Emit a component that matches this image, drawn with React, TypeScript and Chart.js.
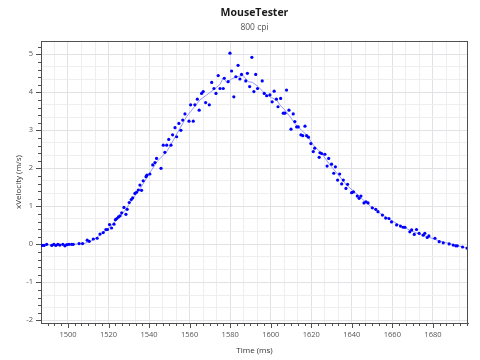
import React, { useEffect, useRef } from "react";
import { Chart, registerables } from "chart.js";

Chart.register(...registerables);

// Measured samples (time in ms, x-velocity in m/s)
const pointTimes = [
  1487.2, 1488.2, 1489.5, 1492.0, 1493.0, 1494.0, 1495.0, 1496.0, 1497.5, 1498.5,
  1499.4, 1500.5, 1501.8, 1502.6, 1505.5, 1507.2, 1509.5, 1510.5, 1512.5, 1514.4,
  1515.8, 1517.4, 1518.7, 1519.5, 1520.5, 1521.5, 1522.7, 1523.4, 1524.1, 1524.9,
  1525.7, 1526.5, 1527.6, 1528.6, 1529.2, 1530.2, 1531.2, 1531.9, 1533.0, 1533.8,
  1534.7, 1535.5, 1536.3, 1537.1, 1538.5, 1538.9, 1540.4, 1541.8, 1542.9, 1543.7,
  1545.9, 1547.0, 1547.8, 1548.7, 1549.7, 1550.8, 1551.6, 1552.8, 1553.6, 1554.7,
  1555.7, 1556.6, 1557.7, 1559.7, 1560.5, 1561.8, 1562.6, 1563.8, 1564.7, 1565.9,
  1566.7, 1567.9, 1569.7, 1570.9, 1572.0, 1573.0, 1574.1, 1575.0, 1576.6, 1577.1,
  1579.0, 1579.9, 1580.7, 1581.8, 1582.8, 1583.9, 1584.8, 1585.6, 1587.7, 1588.5,
  1589.6, 1590.7, 1591.7, 1592.6, 1593.5, 1595.8, 1596.8, 1598.0, 1599.6, 1600.7,
  1601.7, 1602.8, 1603.6, 1604.9, 1606.2, 1607.0, 1607.8, 1609.0, 1610.0, 1611.1,
  1611.9, 1612.8, 1613.6, 1614.9, 1615.8, 1616.9, 1617.7, 1618.6, 1619.8, 1621.0,
  1621.7, 1623.9, 1624.3, 1625.1, 1626.7, 1627.8, 1628.6, 1630.0, 1631.1, 1631.9,
  1633.0, 1634.0, 1635.0, 1635.8, 1637.1, 1637.9, 1639.9, 1640.8, 1642.7, 1643.6,
  1644.5, 1646.0, 1647.0, 1648.0, 1650.1, 1651.8, 1652.9, 1655.1, 1656.7, 1658.3,
  1659.6, 1662.1, 1664.0, 1665.3, 1666.2, 1668.6, 1669.5, 1670.8, 1671.9, 1673.2,
  1675.2, 1676.0, 1677.2, 1678.0, 1681.0, 1683.1, 1685.1, 1688.0, 1690.0, 1691.3,
  1692.0, 1694.6, 1696.9,
];

const pointVelocities = [
  -0.03, -0.03, 0.0, -0.03, 0.0, -0.03, 0.0, -0.02, 0.0, -0.04,
  -0.01, 0.0, 0.0, 0.0, 0.02, 0.02, 0.11, 0.08, 0.14, 0.16,
  0.27, 0.31, 0.39, 0.39, 0.52, 0.43, 0.53, 0.65, 0.68, 0.72,
  0.75, 0.83, 0.97, 0.79, 0.92, 1.1, 1.18, 1.22, 1.34, 1.37,
  1.43, 1.56, 1.42, 1.67, 1.78, 1.82, 1.85, 2.09, 2.15, 2.26,
  2.0, 2.61, 2.42, 2.61, 2.76, 2.61, 2.88, 3.07, 2.83, 3.18,
  3.0, 3.27, 3.43, 3.24, 3.67, 3.24, 3.67, 3.82, 3.53, 3.97,
  4.02, 3.73, 3.67, 4.26, 4.1, 3.97, 4.44, 4.1, 4.1, 4.37,
  4.28, 5.03, 4.56, 3.88, 4.41, 4.71, 4.35, 4.47, 4.3, 4.5,
  4.15, 4.92, 4.02, 4.47, 4.1, 4.3, 3.97, 3.91, 3.93, 3.75,
  4.03, 3.82, 3.62, 3.84, 3.45, 3.45, 4.06, 3.53, 3.03, 3.43,
  3.23, 3.09, 3.09, 2.88, 2.86, 3.11, 2.86, 2.82, 2.65, 2.44,
  2.53, 2.29, 2.41, 2.39, 2.37, 2.06, 2.26, 2.11, 1.87, 2.04,
  1.69, 1.85, 1.59, 1.69, 1.47, 1.58, 1.36, 1.38, 1.27, 1.21,
  1.27, 1.09, 1.12, 1.09, 0.96, 0.92, 0.86, 0.77, 0.69, 0.68,
  0.59, 0.51, 0.48, 0.45, 0.45, 0.33, 0.38, 0.26, 0.39, 0.29,
  0.24, 0.29, 0.18, 0.22, 0.16, 0.07, 0.04, 0.01, -0.02, -0.04,
  -0.04, -0.07, -0.1,
];

// Smoothed trace (light line)
const lineTimes = [
  1487, 1500, 1508, 1512, 1516, 1520, 1524, 1528, 1532, 1536,
  1540, 1544, 1548.7, 1552, 1555.2, 1558.5, 1561.8, 1565.1, 1568.4, 1571.7,
  1575, 1576.6, 1578.3, 1580.7, 1583.2, 1586.4, 1588.9, 1591, 1593.8, 1597.1,
  1600.4, 1602.9, 1604.5, 1607, 1609.5, 1611.9, 1615.2, 1617.7, 1621, 1625,
  1629.2, 1633.3, 1637.4, 1641.5, 1645.6, 1649.7, 1653.8, 1658, 1662, 1666,
  1670.3, 1674.4, 1678.5, 1682.6, 1686.7, 1691, 1696.6,
];
const lineVelocities = [
  -0.02, -0.01, 0.02, 0.1, 0.25, 0.42, 0.64, 0.88, 1.2, 1.5,
  1.85, 2.18, 2.44, 2.74, 3.05, 3.36, 3.58, 3.8, 3.93, 4.06,
  4.21, 4.38, 4.26, 4.35, 4.41, 4.44, 4.28, 4.26, 4.15, 3.97,
  3.86, 3.8, 3.67, 3.53, 3.36, 3.18, 3.0, 2.88, 2.61, 2.4,
  2.09, 1.83, 1.56, 1.37, 1.17, 0.98, 0.82, 0.68, 0.55, 0.44,
  0.33, 0.25, 0.18, 0.1, 0.04, -0.02, -0.09,
];

const xTickLabels = [1500, 1520, 1540, 1560, 1580, 1600, 1620, 1640, 1660, 1680];
const yTickLabels = [-2, -1, 0, 1, 2, 3, 4, 5];

const X_MIN = 1486.7;
const X_MAX = 1697.3;
const Y_MIN = -2.07;
const Y_MAX = 5.35;
const X_MAJOR = 20;
const FONT = "'Open Sans', 'Noto Sans', sans-serif";

const frameAndTicks = {
  id: "frameAndTicks",
  afterDraw(chart: any) {
    const { ctx, chartArea: a, scales } = chart;
    const x = scales.x;
    const y = scales.y;
    ctx.save();
    ctx.strokeStyle = "#505050";
    ctx.lineWidth = 1;
    ctx.beginPath();
    const xs = X_MAJOR / 6;
    for (let k = Math.ceil((X_MIN - 1500) / xs); 1500 + k * xs <= X_MAX; k++) {
      const px = Math.round(x.getPixelForValue(1500 + k * xs)) + 0.5;
      const len = ((k % 6) + 6) % 6 === 0 ? 5 : 3;
      ctx.moveTo(px, a.bottom);
      ctx.lineTo(px, a.bottom + len);
    }
    for (let k = Math.ceil(Y_MIN * 5); k / 5 <= Y_MAX; k++) {
      const py = Math.round(y.getPixelForValue(k / 5)) + 0.5;
      const len = ((k % 5) + 5) % 5 === 0 ? 5 : 3;
      ctx.moveTo(a.left, py);
      ctx.lineTo(a.left - len, py);
    }
    // top and right frame
    ctx.moveTo(a.left, Math.round(a.top) + 0.5);
    ctx.lineTo(a.right, Math.round(a.top) + 0.5);
    ctx.moveTo(Math.round(a.right) - 0.5, a.top);
    ctx.lineTo(Math.round(a.right) - 0.5, a.bottom);
    ctx.stroke();
    ctx.restore();
  },
};

export default function App() {
  const ref = useRef<HTMLCanvasElement | null>(null);

  useEffect(() => {
    if (!ref.current) return;
    const points = pointTimes.map((t, i) => ({ x: t, y: pointVelocities[i] }));
    const trace = lineTimes.map((t, i) => ({ x: t, y: lineVelocities[i] }));

    const chart = new Chart(ref.current, {
      type: "scatter",
      data: {
        datasets: [
          {
            label: "samples",
            data: points,
            backgroundColor: "#0000ff",
            borderWidth: 0,
            pointRadius: 1.6,
            pointStyle: "circle",
            order: 1,
          },
          {
            label: "trace",
            data: trace,
            showLine: true,
            borderColor: "rgba(110,110,255,0.7)",
            borderWidth: 1,
            pointRadius: 0,
            tension: 0,
            order: 2,
          } as any,
        ],
      },
      options: {
        animation: false,
        responsive: false,
        layout: { padding: { left: 0, right: 12, top: 0, bottom: 0 } },
        plugins: {
          legend: { display: false },
          tooltip: { enabled: false },
          title: {
            display: true,
            text: "MouseTester",
            fullSize: false,
            color: "#1a1a1a",
            font: { family: FONT, size: 10.5, weight: "bold" },
            padding: { top: 7, bottom: 2.5 },
          },
          subtitle: {
            display: true,
            text: "800 cpi",
            fullSize: false,
            color: "#555",
            font: { family: FONT, size: 8.5 },
            padding: { top: 0, bottom: 8.7 },
          },
        },
        scales: {
          x: {
            type: "linear",
            min: X_MIN,
            max: X_MAX,
            afterFit: (s: any) => {
              s.height = 37;
            },
            afterBuildTicks: (s: any) => {
              const step = X_MAJOR / 3;
              const ticks = [];
              for (let k = Math.ceil((X_MIN - 1500) / step); 1500 + k * step <= X_MAX; k++) {
                ticks.push({ value: 1500 + k * step });
              }
              s.ticks = ticks;
            },
            ticks: {
              autoSkip: false,
              maxRotation: 0,
              padding: 7,
              color: "#555",
              font: { family: FONT, size: 7.5 },
              callback: (v: any) => {
                const r = Math.round(v);
                return Math.abs(v - r) < 1e-6 && xTickLabels.includes(r) ? String(r) : "";
              },
            },
            grid: {
              drawTicks: false,
              color: (c: any) => {
                const v = c.tick ? c.tick.value : 0;
                return Math.abs(v / X_MAJOR - Math.round(v / X_MAJOR)) < 1e-6 ? "#e2e2e6" : "#eeeef1";
              },
            },
            border: { color: "#505050", width: 1 },
            title: {
              display: true,
              text: "Time (ms)",
              color: "#333",
              font: { family: FONT, size: 8 },
              padding: { top: 0, bottom: 4 },
            },
          },
          y: {
            type: "linear",
            min: Y_MIN,
            max: Y_MAX,
            afterFit: (s: any) => {
              s.width = 41;
            },
            afterBuildTicks: (s: any) => {
              const ticks = [];
              for (let k = Math.ceil(Y_MIN * 3); k / 3 <= Y_MAX; k++) {
                ticks.push({ value: k / 3 });
              }
              s.ticks = ticks;
            },
            ticks: {
              autoSkip: false,
              padding: 8,
              color: "#555",
              font: { family: FONT, size: 7.5 },
              callback: (v: any) => {
                const r = Math.round(v);
                return Math.abs(v - r) < 1e-6 && yTickLabels.includes(r) ? String(r) : "";
              },
            },
            grid: {
              drawTicks: false,
              color: (c: any) => {
                const v = c.tick ? c.tick.value : 0;
                return Math.abs(v - Math.round(v)) < 1e-6 ? "#e2e2e6" : "#eeeef1";
              },
            },
            border: { color: "#505050", width: 1 },
            title: {
              display: true,
              text: "xVelocity (m/s)",
              color: "#333",
              font: { family: FONT, size: 8 },
              padding: { top: 13.5, bottom: 0 },
            },
          },
        },
      },
      plugins: [frameAndTicks],
    });
    return () => chart.destroy();
  }, []);

  return (
    <div style={{ position: "fixed", left: 0, top: 0, width: 480, height: 360, background: "#fff" }}>
      <canvas ref={ref} width={480} height={360} style={{ display: "block" }} />
    </div>
  );
}
